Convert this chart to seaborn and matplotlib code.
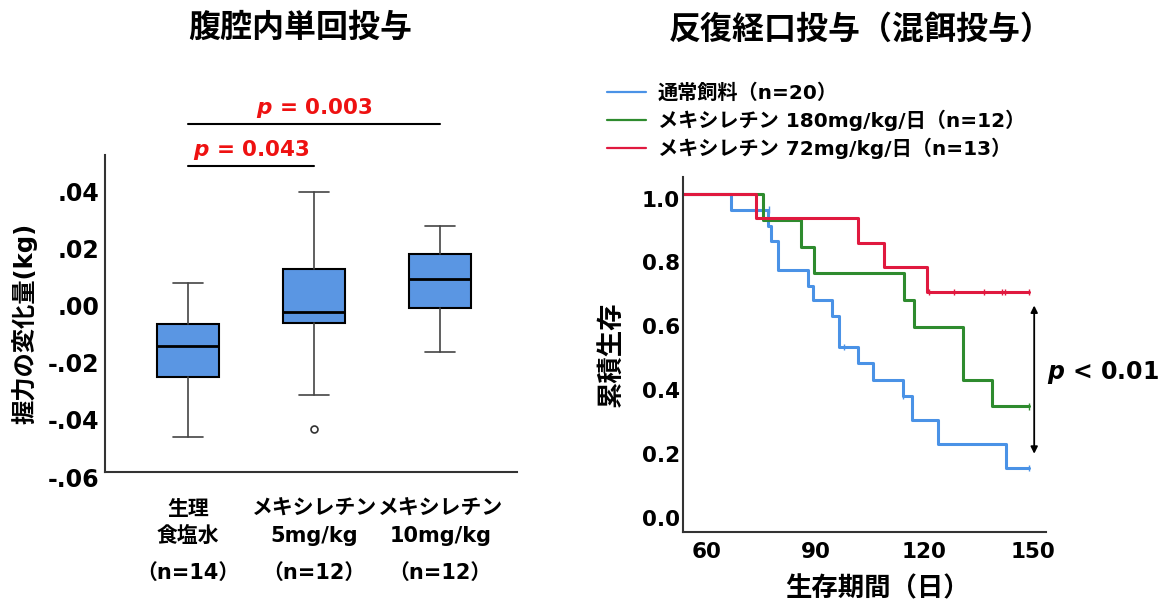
"""Grip strength box plot and survival curves (mexiletine study)"""
import matplotlib.pyplot as plt
import pandas as pd
import seaborn as sns
from matplotlib.transforms import ScaledTranslation, blended_transform_factory

# Left panel: box plot summary
groups = ["生理\n食塩水", "メキシレチン\n5mg/kg", "メキシレチン\n10mg/kg"]
group_n = ["（n=14）", "（n=12）", "（n=12）"]
whisker_low = [-0.0478, -0.0329, -0.0179]
q1 = [-0.0267, -0.0079, -0.0026]
median = [-0.0160, -0.0039, 0.0075]
q3 = [-0.0081, 0.0110, 0.0165]
whisker_high = [0.0062, 0.0382, 0.0261]
outliers = [[], [-0.0449], []]
y_ticks = [-0.06, -0.04, -0.02, 0.0, 0.02, 0.04]
y_tick_labels = ["-.06", "-.04", "-.02", ".00", ".02", ".04"]

# significance brackets: (from group, to group, p text, bracket height)
comparisons = [(0, 1, "0.043", 0.0472), (0, 2, "0.003", 0.0619)]

# Right panel: Kaplan-Meier curves
series_names = ["通常飼料（n=20）", "メキシレチン 180mg/kg/日（n=12）", "メキシレチン 72mg/kg/日（n=13）"]
blue_t = [0, 66.8, 76.9, 77.8, 79.6, 87.9, 89.3, 94.6, 96.4, 101.7, 105.8, 114.0, 116.6, 123.7, 142.5, 148.9]
blue_s = [1.0, 0.95, 0.90, 0.85, 0.76, 0.71, 0.665, 0.615, 0.52, 0.47, 0.415, 0.365, 0.29, 0.215, 0.14, 0.14]
green_t = [0, 75.5, 85.9, 89.7, 114.5, 117.2, 130.6, 138.6, 148.9]
green_s = [1.0, 0.917, 0.833, 0.75, 0.667, 0.583, 0.417, 0.333, 0.333]
red_t = [0, 73.7, 101.7, 108.8, 120.7, 148.9]
red_s = [1.0, 0.923, 0.846, 0.769, 0.692, 0.692]

# censored observations
blue_cens_t = [77.3, 98.0, 114.2, 148.9]
blue_cens_s = [0.95, 0.52, 0.365, 0.14]
green_cens_t = [148.9]
green_cens_s = [0.333]
red_cens_t = [121.3, 128.3, 136.5, 141.4, 142.3, 148.9]
red_cens_s = [0.692, 0.692, 0.692, 0.692, 0.692, 0.692]

km_ticks = [60, 90, 120, 150]
surv_ticks = [0.0, 0.2, 0.4, 0.6, 0.8, 1.0]
arrow_top, arrow_bottom, arrow_day = 0.658, 0.176, 150.3

sns.set_style("white")
plt.rcParams['font.family'] = ['DejaVu Sans', 'Noto Sans CJK JP']
plt.rcParams['font.weight'] = 'bold'
plt.rcParams['axes.labelweight'] = 'bold'
plt.rcParams['mathtext.fontset'] = 'custom'
plt.rcParams['mathtext.it'] = 'DejaVu Sans:italic:bold'
for key in ('text.color', 'axes.labelcolor', 'xtick.color', 'ytick.color'):
    plt.rcParams[key] = 'black'

fig = plt.figure(figsize=(11.65, 6.03), dpi=100)
ax1 = fig.add_axes([0.090, 0.217, 0.354, 0.526])
ax2 = fig.add_axes([0.586, 0.118, 0.312, 0.589])
shift_down = ScaledTranslation(0, -5 / 100, fig.dpi_scale_trans)

# ---- left: box plot
stats = []
for i in range(len(groups)):
    stats.append(dict(med=median[i], q1=q1[i], q3=q3[i],
                      whislo=whisker_low[i], whishi=whisker_high[i], fliers=outliers[i]))
ax1.bxp(stats, positions=range(len(groups)), widths=0.49, capwidths=0.24, patch_artist=True,
        boxprops=dict(facecolor='#5A96E3', edgecolor='black', linewidth=1.5),
        medianprops=dict(color='black', linewidth=2),
        whiskerprops=dict(color='#444444', linewidth=1.2),
        capprops=dict(color='#444444', linewidth=1.2),
        flierprops=dict(marker='o', markersize=5, markerfacecolor='white',
                        markeredgecolor='#333333', markeredgewidth=1.2))
ax1.set_xlim(-0.66, 2.61)
ax1.set_ylim(-0.06, 0.051)
ax1.set_yticks(y_ticks)
ax1.set_yticklabels(y_tick_labels, fontsize=17)
ax1.set_xticks(range(len(groups)))
ax1.set_xticklabels(groups, fontsize=15)
ax1.tick_params(axis='y', length=0, pad=4)
ax1.tick_params(axis='x', length=0, pad=19)
for lab in ax1.get_xticklabels():
    lab.set_linespacing(1.45)
for lab in ax1.get_yticklabels():
    lab.set_transform(lab.get_transform() + shift_down)
trans = blended_transform_factory(ax1.transData, ax1.transAxes)
for i, n in enumerate(group_n):
    ax1.text(i, -0.319, n, transform=trans, ha='center', va='center', fontsize=15)
ax1.set_ylabel("握力の変化量(kg)", fontsize=17.5, va='center')
ax1.yaxis.set_label_coords(-0.194, 0.47)

for a, b, p, h in comparisons:
    ax1.plot([a, b], [h, h], color='black', lw=1.5, clip_on=False)
    ax1.text((a + b) / 2, h + 0.0055, r'$p$ = ' + p, color='#EE1111', ha='center',
             va='center', fontsize=15.5, clip_on=False)

# ---- right: survival curves
palette = dict(zip(series_names, ['#4A92E6', '#2E8B2E', '#E0193F']))
curves = pd.concat([
    pd.DataFrame({'time': blue_t, 'surv': blue_s, 'group': series_names[0]}),
    pd.DataFrame({'time': green_t, 'surv': green_s, 'group': series_names[1]}),
    pd.DataFrame({'time': red_t, 'surv': red_s, 'group': series_names[2]}),
])
censored = pd.concat([
    pd.DataFrame({'time': blue_cens_t, 'surv': blue_cens_s, 'group': series_names[0]}),
    pd.DataFrame({'time': green_cens_t, 'surv': green_cens_s, 'group': series_names[1]}),
    pd.DataFrame({'time': red_cens_t, 'surv': red_cens_s, 'group': series_names[2]}),
])
sns.lineplot(data=curves, x='time', y='surv', hue='group', hue_order=series_names,
             palette=palette, drawstyle='steps-post', estimator=None, sort=False,
             linewidth=2.2, ax=ax2)
sns.scatterplot(data=censored, x='time', y='surv', hue='group', hue_order=series_names,
                palette=palette, marker='|', s=22, linewidth=1.0, legend=False, ax=ax2)
ax2.set_xlim(53.4, 153.6)
ax2.set_ylim(-0.06, 1.053)
ax2.set_xticks(km_ticks)
ax2.set_xticklabels([str(t) for t in km_ticks], fontsize=15.5)
ax2.set_yticks(surv_ticks)
ax2.set_yticklabels([f"{v:.1f}" for v in surv_ticks], fontsize=15.5)
ax2.tick_params(axis='both', length=0)
ax2.tick_params(axis='x', pad=7)
ax2.tick_params(axis='y', pad=2)
for lab in ax2.get_yticklabels():
    lab.set_transform(lab.get_transform() + shift_down)
ax2.set_xlabel("生存期間（日）", fontsize=19, va='center')
ax2.xaxis.set_label_coords(0.536, -0.163)
ax2.set_ylabel("累積生存", fontsize=19, va='center')
ax2.yaxis.set_label_coords(-0.195, 0.499)

ax2.annotate('', xy=(arrow_day, arrow_bottom), xytext=(arrow_day, arrow_top),
             arrowprops=dict(arrowstyle='<|-|>', color='black', lw=1.3, mutation_scale=10),
             annotation_clip=False)
ax2.text(153.9, 0.44, r'$p$ < 0.01', ha='left', va='center', fontsize=17)

sns.move_legend(ax2, 'upper left', bbox_to_anchor=(-0.209, 1.262), frameon=False, title=None,
                borderaxespad=0, borderpad=0, handlelength=1.95, handletextpad=0.6,
                labelspacing=0.33, fontsize=14.5)
for line in ax2.get_legend().get_lines():
    line.set_linewidth(1.6)

for ax in (ax1, ax2):
    sns.despine(ax=ax)
    for side in ('left', 'bottom'):
        ax.spines[side].set_color('#333333')
        ax.spines[side].set_linewidth(1.5)

fig.text(300 / 1165, 1 - 28 / 603, "腹腔内単回投与", ha='center', va='center', fontsize=23)
fig.text(861 / 1165, 1 - 30 / 603, "反復経口投与（混餌投与）", ha='center', va='center', fontsize=23)

fig.savefig('out.png', dpi=100)
